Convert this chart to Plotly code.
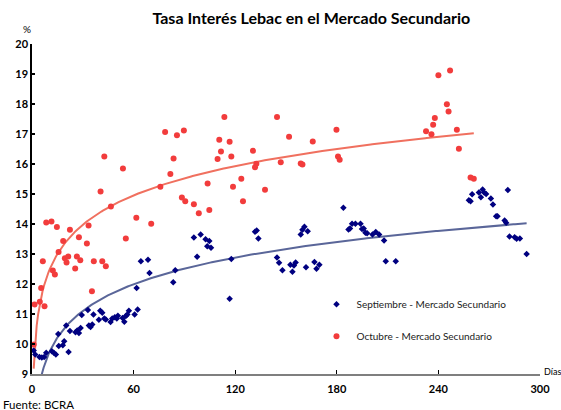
import numpy as np
import plotly.graph_objects as go

# ---- data ----
sep_days = [1, 1.9, 4.4, 5.8, 7.2, 8.4, 11.7, 12.9, 14.1, 15.5, 15.8, 18.2, 19.0, 20.2, 21.6, 22.4,
            25.7, 26.7, 27.7, 28.7, 29.4, 33.0, 33.6, 34.6, 35.6, 36.3, 39.5, 40.3, 41.5, 42.7, 43.6,
            46.4, 47.4, 48.9, 50.1, 50.7, 53.5, 54.5, 55.4, 56.3, 57.2, 60.6, 61.8, 62.4,
            64.3, 68.5, 69.4, 83.4, 84.6, 95.6, 97.5, 99.6, 102.5, 103.5, 104.7, 105.7,
            116.7, 117.7, 131.7, 132.7, 133.7,
            144.7, 145.9, 147.9, 152.6, 153.8, 154.7, 155.7, 158.7, 159.7, 160.9, 161.8, 162.8,
            166.8, 168.0, 169.7, 183.9, 186.9, 187.8, 189.0, 191.0, 194.0, 194.9, 195.9, 196.9,
            197.9, 201.1, 203.0, 205.0, 207.9, 208.9, 214.8,
            258.0, 259.0, 259.9, 263.9, 265.1, 266.1, 267.0, 268.2, 271.0, 272.2, 274.1, 274.9,
            279.1, 280.0, 281.0, 282.0, 285.0, 286.2, 288.1, 292.1]
sep_rates = [9.78, 9.65, 9.57, 9.55, 9.57, 9.71, 9.76, 9.71, 9.65, 10.33, 9.93, 9.96, 10.09, 10.62, 9.73, 10.43,
             10.39, 10.45, 10.37, 10.53, 10.97, 11.13, 10.62, 10.57, 10.65, 10.98, 10.81, 11.11, 11.04, 10.85, 10.82,
             10.73, 10.85, 10.89, 10.85, 10.94, 10.87, 10.74, 10.93, 10.98, 11.11, 10.98, 11.87, 11.15,
             12.76, 12.81, 12.37, 12.06, 12.46, 13.55, 12.91, 13.65, 13.49, 13.26, 13.43, 13.21,
             11.51, 12.83, 13.74, 13.78, 13.52,
             12.88, 12.71, 12.46, 12.64, 12.41, 12.62, 12.72, 13.65, 13.81, 13.91, 12.56, 13.76,
             12.73, 12.51, 12.64, 14.54, 13.82, 13.85, 14.01, 14.01, 14.01, 13.83, 13.85, 13.71,
             13.69, 13.65, 13.73, 13.65, 13.45, 12.76, 12.76,
             14.79, 14.76, 14.99, 15.05, 14.89, 15.15, 15.05, 15.00, 14.85, 14.65, 14.26, 14.26,
             14.12, 14.04, 15.13, 13.58, 13.56, 13.51, 13.52, 13.00]

oct_days = [1, 1.5, 4.6, 7.4, 5.4, 6.4, 8.4, 11.5, 14.7, 12.3, 13.5, 15.7, 18.4, 19.4, 21.4, 20.4,
            22.4, 25.5, 26.5, 27.7, 28.5, 32.4, 33.4, 35.4, 36.5, 41.5, 43.6, 46.6, 55.4, 61.6,
            42.7, 53.7, 40.5, 70.4, 75.8, 78.6, 85.6, 89.7, 83.6, 81.7, 88.5, 90.5, 95.6, 98.5,
            104.7, 103.7, 113.6, 110.6, 116.7, 111.6, 109.6, 117.7, 118.7, 123.6, 124.6, 130.5,
            132.5, 131.7, 137.6, 144.7, 151.8, 146.9, 158.7, 159.7, 165.8, 179.8, 180.7, 181.7,
            232.7, 235.9, 236.9, 237.9, 240.0, 246.9, 245.0, 246.0, 250.9, 252.1, 259.0, 260.9]
oct_rates = [9.98, 11.32, 11.41, 11.26, 11.87, 12.76, 14.05, 14.08, 13.90, 12.45, 12.32, 13.07, 13.43, 12.86, 12.92, 12.72,
             13.81, 12.52, 12.92, 13.56, 12.79, 13.35, 13.95, 11.76, 12.76, 12.76, 12.59, 14.58, 13.52, 14.21,
             16.25, 15.85, 15.08, 14.01, 15.24, 17.07, 16.96, 17.12, 16.18, 15.67, 14.88, 14.76, 14.66, 14.36,
             14.47, 15.35, 17.57, 16.81, 16.74, 16.42, 16.17, 16.25, 15.24, 15.51, 14.76, 16.44,
             16.01, 15.89, 15.14, 17.57, 16.91, 16.06, 16.02, 15.98, 16.75, 17.14, 16.25, 16.14,
             17.09, 16.99, 17.31, 17.53, 18.96, 19.12, 17.99, 17.75, 17.14, 16.51, 15.55, 15.51]

# logarithmic trend lines (rate = a + b*ln(days)), coefficients
sep_trend_a, sep_trend_b = 6.74, 1.283
oct_trend_a, oct_trend_b = 9.18, 1.41

series_names = ["Septiembre - Mercado Secundario", "Octubre - Mercado Secundario"]
x_ticks = [0, 60, 120, 180, 240, 300]
y_ticks = [9, 10, 11, 12, 13, 14, 15, 16, 17, 18, 19, 20]

BLUE = "#000080"
RED = "#F23C3C"
BLUE_TREND = "#5A6699"
RED_TREND = "#F0705F"
FONT = "Lato"


def log_trend(days, a, b):
    d = np.asarray(days, float)
    xs = np.linspace(d.min(), d.max(), 300)
    return xs, a + b * np.log(xs)


fig = go.Figure()

sx, sy = log_trend(sep_days, sep_trend_a, sep_trend_b)
ox, oy = log_trend(oct_days, oct_trend_a, oct_trend_b)

fig.add_trace(go.Scatter(x=sx, y=sy, mode="lines", line=dict(color=BLUE_TREND, width=2),
                         showlegend=False, hoverinfo="skip"))
fig.add_trace(go.Scatter(x=ox, y=oy, mode="lines", line=dict(color=RED_TREND, width=2),
                         showlegend=False, hoverinfo="skip"))

fig.add_trace(go.Scatter(x=sep_days, y=sep_rates, mode="markers", name=series_names[0],
                         legendgroup="a",
                         marker=dict(symbol="diamond", size=5, color=BLUE)))
fig.add_trace(go.Scatter(x=oct_days, y=oct_rates, mode="markers", name=series_names[1],
                         legendgroup="b",
                         marker=dict(symbol="circle", size=6, color=RED)))

fig.update_layout(
    width=561, height=410,
    margin=dict(l=32, r=21, t=44, b=36, autoexpand=False),
    paper_bgcolor="white", plot_bgcolor="white",
    font=dict(family=FONT, color="black", size=10),
    title=dict(text="<b>Tasa Interés Lebac en el Mercado Secundario</b>",
               x=0.555, xanchor="center", y=0.955, yanchor="middle",
               font=dict(family=FONT, size=16, color="black")),
    legend=dict(x=0.56, y=0.255, xanchor="left", yanchor="top",
                bgcolor="rgba(0,0,0,0)", tracegroupgap=13,
                font=dict(family=FONT, size=10, color="#222222")),
    showlegend=True,
)

fig.update_xaxes(range=[0, 300], tickvals=x_ticks, ticktext=[str(v) for v in x_ticks],
                 showgrid=False, zeroline=False, showline=True, linecolor="#7f7f7f", linewidth=2,
                 ticks="inside", ticklen=4, tickcolor="black", tickwidth=1,
                 tickfont=dict(family=FONT, size=11, weight="bold"), ticklabelstandoff=4)
fig.update_yaxes(range=[9, 20], tickvals=y_ticks, ticktext=[str(v) for v in y_ticks],
                 showgrid=False, zeroline=False, showline=True, linecolor="black", linewidth=1.5,
                 ticks="inside", ticklen=3, tickcolor="black", tickwidth=1.5,
                 tickfont=dict(family=FONT, size=11, weight="bold"))

fig.add_annotation(text="%", xref="paper", yref="paper", x=-0.01, y=1.022,
                   xanchor="center", yanchor="bottom", showarrow=False,
                   font=dict(family=FONT, size=10))
fig.add_annotation(text="Días", xref="paper", yref="paper", x=1.003, y=0.009,
                   xanchor="left", yanchor="middle", showarrow=False,
                   font=dict(family=FONT, size=9))
fig.add_annotation(text="Fuente: BCRA", xref="paper", yref="paper", x=-0.062, y=-0.118,
                   xanchor="left", yanchor="bottom", showarrow=False,
                   font=dict(family=FONT, size=11.5))

fig.write_html("out.html", config={"displayModeBar": False},
               post_script="document.body.style.margin='0';document.body.style.overflow='hidden';")
